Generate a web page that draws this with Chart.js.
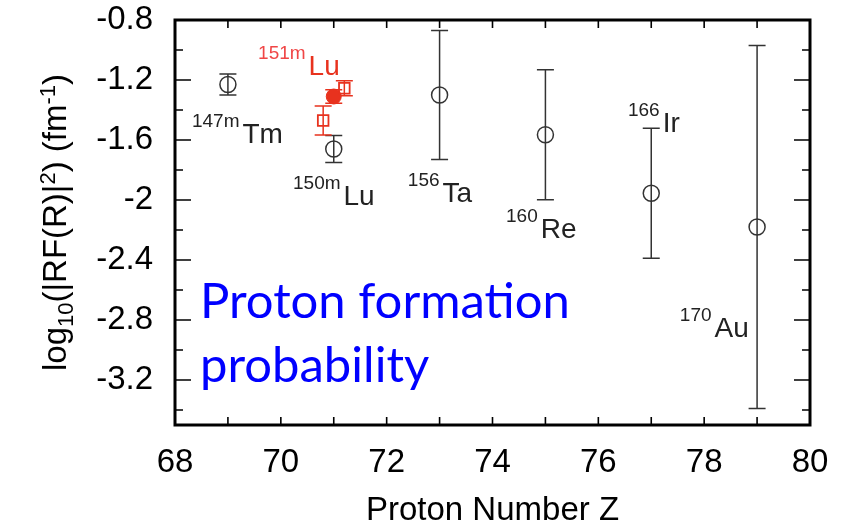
<!DOCTYPE html>
<html>
<head>
<meta charset="utf-8">
<script src="https://cdn.jsdelivr.net/npm/chart.js@4.4.1/dist/chart.umd.min.js"></script>
<style>
  html, body { margin: 0; padding: 0; background: #fff; }
</style>
</head>
<body>
<canvas id="chart" width="846" height="524"></canvas>
<script>
// measured values (open circles, black)
const zBlack = [69, 71, 73, 75, 77, 79];
const vBlack = [-1.23, -1.66, -1.30, -1.565, -1.955, -2.18];
const eBlack = [0.07, 0.09, 0.43, 0.433, 0.433, 1.21];

// 151mLu, filled red circle
const zRedFilled = [71];
const vRedFilled = [-1.31];
const eRedFilled = [0.045];

// 151mLu, open red squares
const zRedOpen = [70.8, 71.2];
const vRedOpen = [-1.47, -1.255];
const eRedOpen = [0.097, 0.05];

const xTicks = [68, 70, 72, 74, 76, 78, 80];
const yTicks = [-0.8, -1.2, -1.6, -2, -2.4, -2.8, -3.2];

// isotope labels: mass number, symbol, anchor (Z, value) at left of mass / baseline of symbol
const isoLabels = [
    { mass: '147m', sym: 'Tm', z: 68.32, v: -1.62, red: false },
    { mass: '150m', sym: 'Lu', z: 70.23, v: -2.033, red: false },
    { mass: '151m', sym: 'Lu', z: 69.57, v: -1.167, red: true },
    { mass: '156', sym: 'Ta', z: 72.40, v: -2.013, red: false },
    { mass: '160', sym: 'Re', z: 74.255, v: -2.253, red: false },
    { mass: '166', sym: 'Ir', z: 76.56, v: -1.547, red: false },
    { mass: '170', sym: 'Au', z: 77.54, v: -2.913, red: false },
];

const toPoints = (zs, vs) => zs.map((z, i) => ({ x: z, y: vs[i] }));

const FONT = '"Liberation Sans", Arial, sans-serif';

const decoPlugin = {
    id: 'deco',
    beforeDatasetsDraw(chart) {
        const { ctx, scales: { x, y } } = chart;
        ctx.save();
        chart.data.datasets.forEach((ds) => {
            ctx.strokeStyle = ds.borderColor;
            ctx.lineWidth = 1.5;
            ds.data.forEach((d, j) => {
                const e = ds.errors[j];
                const px = x.getPixelForValue(d.x);
                const y1 = y.getPixelForValue(d.y + e);
                const y2 = y.getPixelForValue(d.y - e);
                ctx.beginPath();
                ctx.moveTo(px, y1); ctx.lineTo(px, y2);
                ctx.moveTo(px - 8.5, y1); ctx.lineTo(px + 8.5, y1);
                ctx.moveTo(px - 8.5, y2); ctx.lineTo(px + 8.5, y2);
                ctx.stroke();
            });
        });
        ctx.restore();
    },
    afterDraw(chart) {
        const { ctx, chartArea: a, scales: { x, y } } = chart;
        ctx.save();

        // inward ticks on all four sides
        ctx.strokeStyle = '#000';
        ctx.lineWidth = 1.6;
        ctx.beginPath();
        for (let z = 68; z <= 80; z++) {
            const px = x.getPixelForValue(z);
            ctx.moveTo(px, a.bottom); ctx.lineTo(px, a.bottom - 8);
            ctx.moveTo(px, a.top); ctx.lineTo(px, a.top + 8);
        }
        for (let k = 0; k <= 13; k++) {
            const v = -0.8 - k * 0.2;
            const py = y.getPixelForValue(v);
            const len = k % 2 === 0 ? 16 : 8;
            ctx.moveTo(a.left, py); ctx.lineTo(a.left + len, py);
            ctx.moveTo(a.right, py); ctx.lineTo(a.right - len, py);
        }
        ctx.stroke();

        // frame
        ctx.lineWidth = 3;
        ctx.strokeRect(a.left, a.top, a.right - a.left, a.bottom - a.top);

        // x title
        ctx.fillStyle = '#000';
        ctx.font = '33px ' + FONT;
        ctx.textAlign = 'center';
        ctx.textBaseline = 'alphabetic';
        ctx.fillText('Proton Number Z', (a.left + a.right) / 2, 520);

        // y title with sub/superscripts
        const parts = [
            { t: 'log', s: 33, dy: 0 },
            { t: '10', s: 22, dy: 7 },
            { t: '(|RF(R)|', s: 33, dy: 0 },
            { t: '2', s: 22, dy: -11 },
            { t: ') (fm', s: 33, dy: 0 },
            { t: '-1', s: 22, dy: -11 },
            { t: ')', s: 33, dy: 0 },
        ];
        let total = 0;
        parts.forEach(p => { ctx.font = p.s + 'px ' + FONT; p.w = ctx.measureText(p.t).width; total += p.w; });
        ctx.translate(66, (a.top + a.bottom) / 2);
        ctx.rotate(-Math.PI / 2);
        ctx.textAlign = 'left';
        let cx = -total / 2;
        parts.forEach(p => {
            ctx.font = p.s + 'px ' + FONT;
            ctx.fillText(p.t, cx, p.dy);
            cx += p.w;
        });
        ctx.setTransform(1, 0, 0, 1, 0, 0);

        // isotope labels
        isoLabels.forEach(l => {
            const px = x.getPixelForValue(l.z);
            const py = y.getPixelForValue(l.v);
            ctx.textAlign = 'left';
            ctx.font = '19px ' + FONT;
            ctx.fillStyle = l.red ? '#f04646' : '#222';
            ctx.fillText(l.mass, px, py - 16);
            const w = ctx.measureText(l.mass).width;
            ctx.font = '28px ' + FONT;
            ctx.fillStyle = l.red ? '#e8321e' : '#222';
            ctx.fillText(l.sym, px + w + 3, py);
        });

        // blue caption
        ctx.fillStyle = '#0000ff';
        ctx.font = '50px Lato, sans-serif';
        const fit = 50 * 370 / ctx.measureText('Proton formation').width;
        ctx.font = fit.toFixed(1) + 'px Lato, sans-serif';
        ctx.fillText('Proton formation', 200, 318);
        ctx.fillText('probability', 200, 382);

        ctx.restore();
    }
};

new Chart(document.getElementById('chart'), {
    type: 'scatter',
    data: {
        datasets: [
            {
                data: toPoints(zBlack, vBlack),
                errors: eBlack,
                pointStyle: 'circle',
                pointRadius: 8,
                pointBorderWidth: 1.5,
                borderColor: '#333',
                backgroundColor: 'rgba(0,0,0,0)',
            },
            {
                data: toPoints(zRedOpen, vRedOpen),
                errors: eRedOpen,
                pointStyle: 'rect',
                pointRadius: 7.5,
                pointBorderWidth: 1.8,
                borderColor: '#e8321e',
                backgroundColor: 'rgba(0,0,0,0)',
            },
            {
                data: toPoints(zRedFilled, vRedFilled),
                errors: eRedFilled,
                pointStyle: 'circle',
                pointRadius: 7.5,
                pointBorderWidth: 1,
                borderColor: '#e8321e',
                backgroundColor: '#e8321e',
            },
        ]
    },
    options: {
        responsive: false,
        animation: false,
        layout: { padding: { top: 20, right: 36, left: 0, bottom: 0 } },
        plugins: {
            legend: { display: false },
            tooltip: { enabled: false },
        },
        scales: {
            x: {
                type: 'linear',
                min: 68,
                max: 80,
                afterBuildTicks: (s) => { s.ticks = xTicks.map(v => ({ value: v })); },
                afterFit: (s) => { s.height = 99; s.paddingLeft = 0; s.paddingRight = 0; },
                grid: { display: false, drawTicks: false },
                border: { display: false },
                ticks: {
                    padding: 18,
                    color: '#000',
                    font: { family: FONT, size: 33 },
                    maxRotation: 0,
                    callback: (v) => String(v),
                },
            },
            y: {
                type: 'linear',
                min: -3.5,
                max: -0.8,
                afterBuildTicks: (s) => { s.ticks = yTicks.map(v => ({ value: v })); },
                afterFit: (s) => { s.width = 175; s.paddingTop = 0; s.paddingBottom = 0; },
                grid: { display: false, drawTicks: false },
                border: { display: false },
                ticks: {
                    padding: 22,
                    color: '#000',
                    font: { family: FONT, size: 33 },
                    callback: (v) => String(+v.toFixed(1)),
                },
            },
        }
    },
    plugins: [decoPlugin],
});
</script>
</body>
</html>
